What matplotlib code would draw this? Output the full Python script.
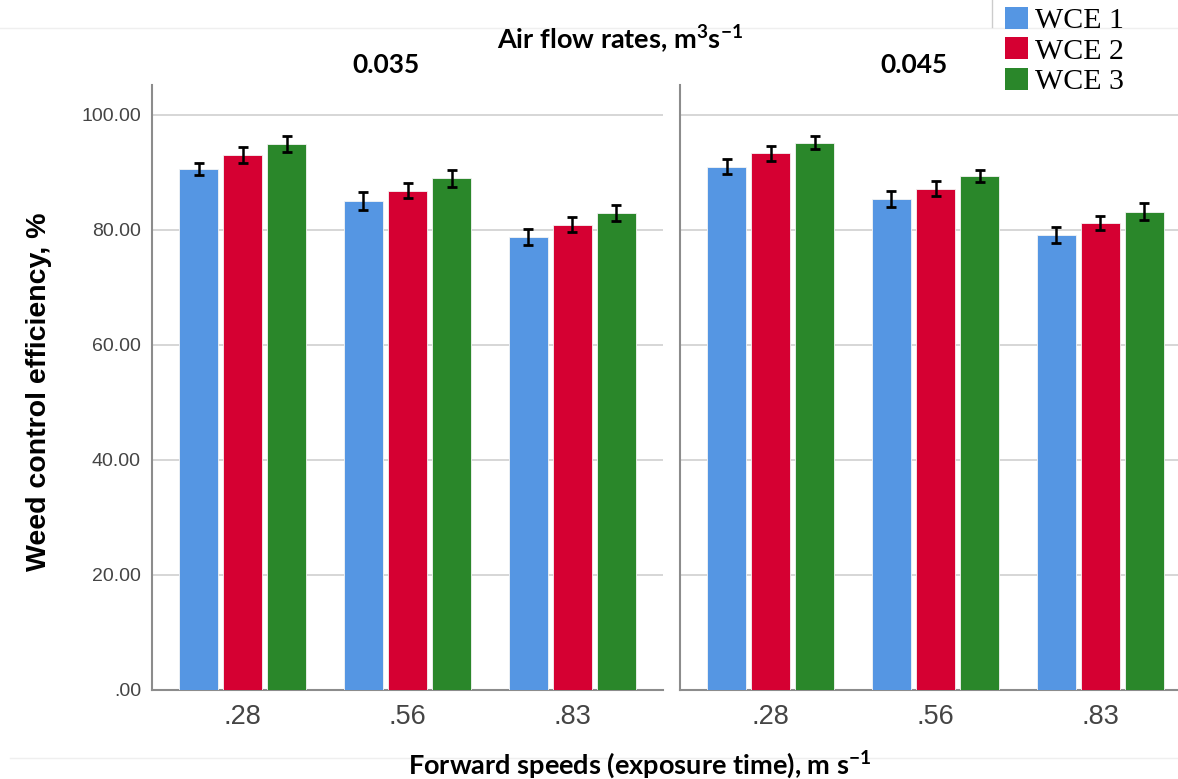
import numpy as np
import matplotlib
matplotlib.use("Agg")
import matplotlib.pyplot as plt
from matplotlib.lines import Line2D
from matplotlib.patches import Patch

# -------------------------------------------------------------
# Data
# -------------------------------------------------------------
speeds = [".28", ".56", ".83"]
series = ["WCE 1", "WCE 2", "WCE 3"]
colors = ["#5596e3", "#d50032", "#2a872a"]
panel_titles = ["0.035", "0.045"]

# air flow 0.035
wce_035 = [
    [90.6, 85.0, 78.8],   # WCE 1
    [93.0, 86.8, 80.9],   # WCE 2
    [94.9, 89.0, 82.9],   # WCE 3
]
err_035 = [
    [1.1, 1.6, 1.35],
    [1.4, 1.3, 1.3],
    [1.4, 1.5, 1.4],
]

# air flow 0.045
wce_045 = [
    [91.0, 85.3, 79.1],
    [93.3, 87.2, 81.2],
    [95.2, 89.4, 83.2],
]
err_045 = [
    [1.3, 1.4, 1.45],
    [1.35, 1.35, 1.2],
    [1.15, 1.1, 1.4],
]

y_ticks = [0, 20, 40, 60, 80, 100]
y_tick_labels = [".00", "20.00", "40.00", "60.00", "80.00", "100.00"]

# -------------------------------------------------------------
# Style
# -------------------------------------------------------------
plt.rcParams["mathtext.fontset"] = "custom"
plt.rcParams["mathtext.bf"] = "Lato:bold"
plt.rcParams["mathtext.rm"] = "Lato:bold"
plt.rcParams["mathtext.default"] = "bf"

W, H = 1178, 779
fig = plt.figure(figsize=(W / 100, H / 100), dpi=100)

ax_bottom = 1 - 690 / H
ax_height = (690 - 85) / H
ax_w = 511 / W
ax1 = fig.add_axes([152 / W, ax_bottom, ax_w, ax_height])
ax2 = fig.add_axes([680 / W, ax_bottom, ax_w, ax_height])

x = np.arange(len(speeds))
step = 0.267
bar_w = 0.235

for ax, vals, errs, title in [(ax1, wce_035, err_035, panel_titles[0]),
                              (ax2, wce_045, err_045, panel_titles[1])]:
    for i in range(len(series)):
        ax.bar(x + (i - 1) * step, vals[i], width=bar_w, color=colors[i],
               edgecolor="#f4f4f4", linewidth=0.6, zorder=3)
        ax.errorbar(x + (i - 1) * step, vals[i], yerr=errs[i], fmt="none",
                    ecolor="black", elinewidth=1.8, capsize=3.4, capthick=2.0,
                    zorder=4)
    ax.set_xlim(-0.55, 2.55)
    ax.set_ylim(0, 105.2)
    ax.set_xticks(x)
    ax.set_xticklabels(speeds, fontsize=19.5, color="#444444",
                       family="Liberation Sans")
    ax.set_yticks(y_ticks)
    ax.yaxis.grid(True, color="#cfcfcf", linewidth=1.2, zorder=0)
    ax.set_axisbelow(True)
    ax.tick_params(axis="both", length=0)
    ax.tick_params(axis="x", pad=10)
    ax.tick_params(axis="y", pad=8)
    for s in ["top", "right"]:
        ax.spines[s].set_visible(False)
    for s in ["left", "bottom"]:
        ax.spines[s].set_color("#8c8c8c")
        ax.spines[s].set_linewidth(1.5)
    ax.text(0.457, 1.033, title, transform=ax.transAxes, ha="center",
            va="center", fontsize=19, fontweight="bold", family="Lato")

ax1.set_yticklabels(y_tick_labels, fontsize=14, color="#444444",
                    family="Liberation Sans")
ax2.set_yticklabels([])

# -------------------------------------------------------------
# Labels
# -------------------------------------------------------------
fig.text(39 / W, 1 - 392 / H, "Weed control efficiency, %", rotation=90,
         ha="center", va="center", fontsize=20.5, fontweight="bold",
         family="Liberation Sans")
fig.text(620 / W, 1 - 40 / H, r"Air flow rates, m$^{3}$s$^{-1}$",
         ha="center", va="center", fontsize=19.5, fontweight="bold", family="Lato")
fig.text(640 / W, 1 - 765 / H, r"Forward speeds (exposure time), m s$^{-1}$",
         ha="center", va="center", fontsize=19.5, fontweight="bold", family="Lato")

# legend
handles = [Patch(facecolor=c, edgecolor="none") for c in colors]
fig.legend(handles, series, loc="upper left",
           bbox_to_anchor=(1005 / W, 1 - 7 / H), frameon=False,
           prop={"family": "Liberation Serif", "size": 21.5},
           handlelength=0.76, handleheight=0.76, handletextpad=0.25,
           labelspacing=0.1, borderpad=0, borderaxespad=0)

# faint screenshot borders
fig.add_artist(Line2D([0, 1], [1 - 28 / H, 1 - 28 / H], color="#efefef",
                      linewidth=1, transform=fig.transFigure))
fig.add_artist(Line2D([10 / W, 1], [1 - 758 / H, 1 - 758 / H], color="#efefef",
                      linewidth=1, transform=fig.transFigure))
fig.add_artist(Line2D([992 / W, 992 / W], [1, 1 - 27 / H], color="#cccccc",
                      linewidth=1, transform=fig.transFigure))

fig.savefig("out.png", dpi=100)
